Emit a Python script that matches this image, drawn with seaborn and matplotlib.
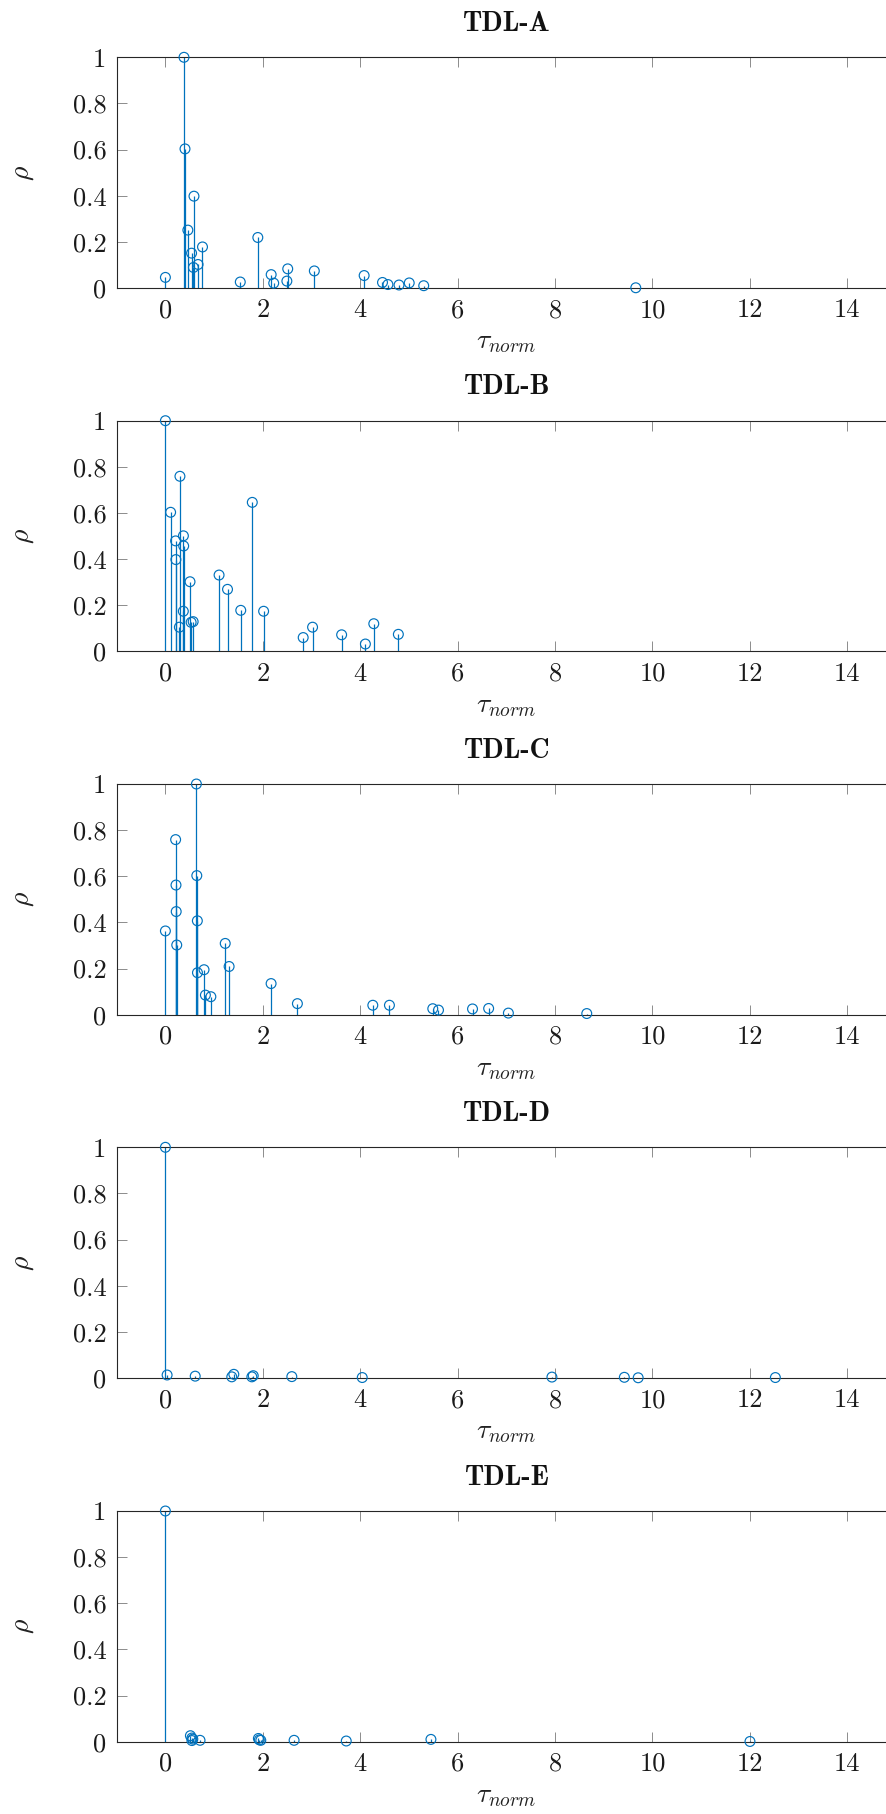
import matplotlib
matplotlib.use("Agg")
import matplotlib.pyplot as plt
import seaborn as sns

# Normalised tap delays (tau_norm) and linear tap powers (rho) for each TDL profile
titles = ["TDL-A", "TDL-B", "TDL-C", "TDL-D", "TDL-E"]

tau_a = [0.0000, 0.3819, 0.4025, 0.5868, 0.4610, 0.5375, 0.6708, 0.5750, 0.7618,
         1.5375, 1.8978, 2.2242, 2.1718, 2.4942, 2.5119, 3.0582, 4.0810, 4.4579,
         4.5695, 4.7966, 5.0066, 5.3043, 9.6586]
rho_a = [0.046, 1.000, 0.603, 0.398, 0.251, 0.151, 0.102, 0.089, 0.178,
         0.026, 0.219, 0.021, 0.058, 0.030, 0.083, 0.074, 0.054, 0.024,
         0.015, 0.013, 0.022, 0.010, 0.001]

tau_b = [0.0000, 0.1072, 0.2155, 0.2095, 0.2870, 0.2986, 0.3752, 0.5055, 0.3681,
         0.3697, 0.5700, 0.5283, 1.1021, 1.2756, 1.5474, 1.7842, 2.0169, 2.8294,
         3.0219, 3.6187, 4.1067, 4.2790, 4.7834]
rho_b = [1.000, 0.603, 0.398, 0.479, 0.105, 0.759, 0.457, 0.302, 0.174,
         0.501, 0.129, 0.126, 0.331, 0.269, 0.178, 0.646, 0.174, 0.060,
         0.105, 0.072, 0.032, 0.120, 0.074]

tau_c = [0.0000, 0.2099, 0.2219, 0.2329, 0.2176, 0.6366, 0.6448, 0.6560, 0.6584,
         0.7935, 0.8213, 0.9336, 1.2285, 1.3083, 2.1704, 2.7105, 4.2589, 4.6003,
         5.4902, 5.6077, 6.3065, 6.6374, 7.0427, 8.6523]
rho_c = [0.363, 0.759, 0.447, 0.302, 0.562, 1.000, 0.603, 0.407, 0.182,
         0.195, 0.085, 0.078, 0.309, 0.209, 0.135, 0.048, 0.041, 0.041,
         0.026, 0.020, 0.025, 0.027, 0.007, 0.005]

tau_d = [0.000, 0.035, 0.612, 1.363, 1.405, 1.804, 2.596, 1.775, 4.042,
         7.937, 9.424, 9.708, 12.525]
rho_d = [1.000, 0.013, 0.008, 0.005, 0.016, 0.010, 0.006, 0.005, 0.002,
         0.004, 0.003, 0.001, 0.002]

tau_e = [0.0000, 0.5133, 0.5440, 0.5630, 0.5440, 0.7112, 1.9092, 1.9293, 1.9589,
         2.6426, 3.7136, 5.4524, 12.0034]
rho_e = [1.000, 0.026, 0.016, 0.011, 0.005, 0.006, 0.014, 0.008, 0.006,
         0.006, 0.003, 0.010, 0.001]

x_ticks = [0, 2, 4, 6, 8, 10, 12, 14]
y_ticks = [0, 0.2, 0.4, 0.6, 0.8, 1]
y_tick_labels = ["0", "0.2", "0.4", "0.6", "0.8", "1"]

profiles = [(tau_a, rho_a), (tau_b, rho_b), (tau_c, rho_c), (tau_d, rho_d), (tau_e, rho_e)]

sns.set_theme(style="ticks")
plt.rcParams.update({
    "font.family": ["cmr10"],
    "mathtext.fontset": "cm",
    "axes.formatter.use_mathtext": True,
    "axes.unicode_minus": False,
})

blue = "#0072BD"
axis_col = "#262626"

W, H = 886, 1814
fig = plt.figure(figsize=(W / 100, H / 100), dpi=100)

ax_left, ax_right = 116.7, 895.9
ax_h = 230.7
tops = [57.3, 420.7, 784.0, 1147.3, 1511.0]

for title, (tau, rho), top in zip(titles, profiles, tops):
    ax = fig.add_axes([ax_left / W, 1 - (top + ax_h) / H,
                       (ax_right - ax_left) / W, ax_h / H])
    ax.vlines(tau, 0, rho, color=blue, linewidth=0.9, zorder=2)
    sns.scatterplot(x=tau, y=rho, ax=ax, marker="o", s=50, color=blue,
                    facecolor="none", edgecolor=blue, linewidth=0.85,
                    clip_on=False, zorder=3, legend=False)

    ax.set_xlim(-1, 15)
    ax.set_ylim(0, 1)
    ax.set_xticks(x_ticks)
    ax.set_xticklabels([str(t) for t in x_ticks])
    ax.set_yticks(y_ticks)
    ax.set_yticklabels(y_tick_labels)
    ax.tick_params(direction="in", length=7.5, width=0.6, color="#7a7a7a",
                   labelsize=19, labelcolor="#1a1a1a", pad=7.5,
                   top=True, right=True)
    for sp in ax.spines.values():
        sp.set_color(axis_col)
        sp.set_linewidth(0.8)

    ax.set_title(title, fontfamily="cmb10", fontsize=20, pad=19, color="#111111")
    ax.set_xlabel(r"$\tau_{norm}$", fontsize=20, color="#222222")
    ax.xaxis.set_label_coords(0.5, -54 / ax_h)
    ax.xaxis.label.set_va("center")
    ax.set_ylabel(r"$\rho$", fontsize=20, color="#222222")
    ax.yaxis.set_label_coords(-(ax_left - 23) / (ax_right - ax_left), 0.5)
    ax.yaxis.label.set_va("center")

fig.savefig("out.png", dpi=100)
